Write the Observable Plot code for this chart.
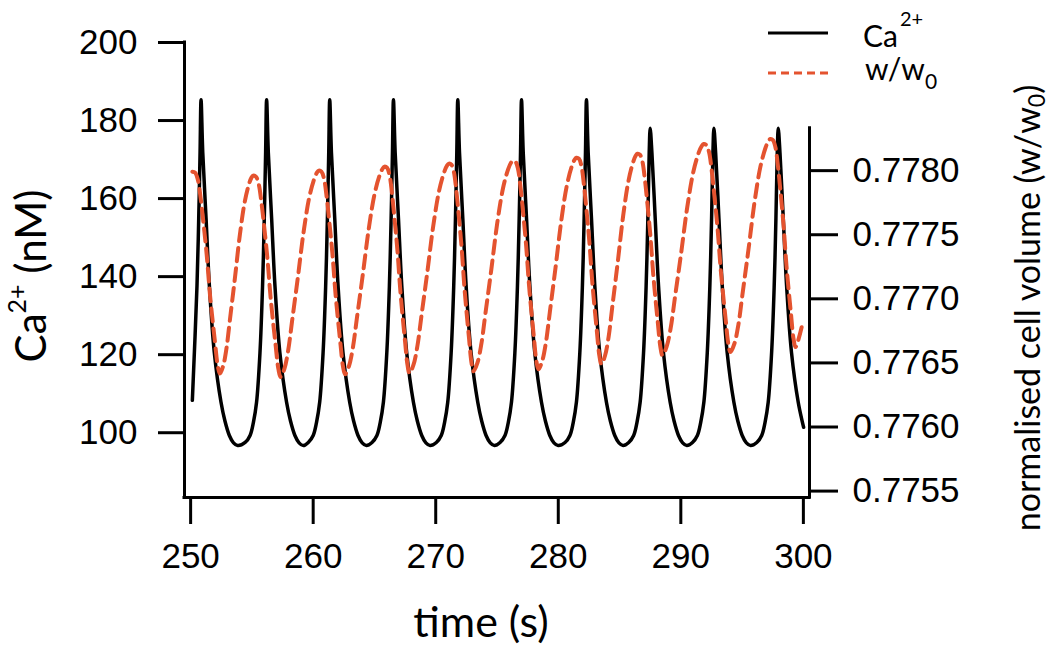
<!DOCTYPE html>
<html>
<head>
<meta charset="utf-8">
<script src="https://cdn.jsdelivr.net/npm/d3@7"></script>
<script src="https://cdn.jsdelivr.net/npm/@observablehq/plot@0.6"></script>
<style>
  html, body { margin: 0; padding: 0; background: #fff; }
  #chart { position: relative; width: 1050px; height: 646px; }
</style>
</head>
<body>
<div id="chart"></div>
<script>
// ---------- data ----------
const xTicks = [250, 260, 270, 280, 290, 300];
const caTicks = [100, 120, 140, 160, 180, 200];
const wTicks = [0.7755, 0.7760, 0.7765, 0.7770, 0.7775, 0.7780];

const xDomain = [249.5, 300.5];
const yDomain = [83.4, 200];          // Ca2+ (nM), left axis
const wDomain = [0.77545, 0.77833];   // w/w0, right axis
const rightAxisTopCa = 178;           // where the right axis ends, in Ca units

// Ca2+ trace: peaks, and the shape of one spike
const caPeakTimes  = [250.85, 256.2, 261.35, 266.55, 271.8, 277.0, 282.3, 287.5, 292.7, 297.95];
const caPeakValues = [185.3, 185.3, 185.3, 185.3, 185.3, 185.3, 185.3, 178, 178, 178];
const caFallDt     = [0.14, 0.41, 0.68, 1.08, 1.63, 1.95, 2.31, 2.65, 2.99];      // s after a peak
const caFallValues = [171.8, 154.9, 137.7, 120.6, 107.8, 103.0, 99.3, 97.4, 96.7];
const caRiseDt     = [1.75, 1.35, 1.08, 0.82, 0.54, 0.33, 0.19, 0.08];            // s before a peak
const caRiseValues = [97.5, 99.3, 102.6, 107.8, 120.6, 137.7, 154.9, 171.8];
const caStart = [250.14, 108.3];
const caEnd   = [300.02, 101.4];

// w/w0 trace: peaks and troughs of each cycle, and the shape of each branch
const wPeakTimes    = [250.14, 255.10, 260.46, 265.82, 271.08, 276.30, 281.48, 286.46, 291.87, 297.31];
const wPeakValues   = [0.777992, 0.777961, 0.778000, 0.778031, 0.778055, 0.778078, 0.778101, 0.778132, 0.778208, 0.778247];
const wTroughTimes  = [252.39, 257.34, 262.60, 267.86, 273.08, 278.38, 283.52, 288.50, 294.05, 299.36];
const wTroughValues = [0.776417, 0.776390, 0.776411, 0.776419, 0.776435, 0.776450, 0.776490, 0.776559, 0.776585, 0.776624];
const wFallU    = [0.1, 0.2, 0.3, 0.4, 0.52, 0.64, 0.82, 0.92];   // fraction of peak->trough time
const wFallFrac = [0.005, 0.04, 0.13, 0.25, 0.41, 0.61, 0.843, 0.96];
const wRiseU    = [0.1, 0.2, 0.3, 0.45, 0.6, 0.75, 0.88, 0.95];    // fraction of trough->peak time
const wRiseFrac = [0.04, 0.13, 0.27, 0.48, 0.7, 0.87, 0.96, 0.99];
const wEnd = [299.95, 0.776816];

// ---------- build the series ----------
const caData = [{t: caStart[0], v: caStart[1]}];
caPeakTimes.forEach((p, i) => {
  const prevMin = i > 0 ? caPeakTimes[i - 1] + caFallDt[caFallDt.length - 1] : caStart[0];
  caRiseDt.forEach((dt, j) => { const t = p - dt; if (t > prevMin + 0.2 && t > caStart[0]) caData.push({t, v: caRiseValues[j]}); });
  caData.push({t: p, v: caPeakValues[i]});
  caFallDt.forEach((dt, j) => { const t = p + dt; if (t < caEnd[0]) caData.push({t, v: caFallValues[j]}); });
});
caData.push({t: caEnd[0], v: caEnd[1]});

const wToCa = d3.scaleLinear().domain(wDomain).range([yDomain[0], rightAxisTopCa]);

const wData = [];
wPeakTimes.forEach((p, i) => {
  const pv = wPeakValues[i], tt = wTroughTimes[i], tv = wTroughValues[i];
  wData.push({t: p, w: pv});
  wFallU.forEach((u, j) => wData.push({t: p + u * (tt - p), w: pv + wFallFrac[j] * (tv - pv)}));
  wData.push({t: tt, w: tv});
  if (i + 1 < wPeakTimes.length) {
    const np = wPeakTimes[i + 1], npv = wPeakValues[i + 1];
    wRiseU.forEach((u, j) => wData.push({t: tt + u * (np - tt), w: tv + wRiseFrac[j] * (npv - tv)}));
  }
});
wData.push({t: wEnd[0], w: wEnd[1]});
wData.forEach(d => d.v = wToCa(d.w));

// ---------- plot ----------
const red = "#e4532f";
const tickFont = "'Liberation Sans', Arial, Helvetica, sans-serif";
const titleFont = "Lato, 'Open Sans', sans-serif";

const svg = Plot.plot({
  width: 1050,
  height: 646,
  marginTop: 42,
  marginBottom: 149,
  marginLeft: 184,
  marginRight: 241,
  x: {domain: xDomain},
  y: {domain: yDomain},
  style: {fontFamily: tickFont, background: "white", color: "black", overflow: "visible"},
  marks: [
    Plot.line(caData, {x: "t", y: "v", stroke: "black", strokeWidth: 3.5, curve: "catmull-rom"}),
    Plot.line(wData, {x: "t", y: "v", stroke: red, strokeWidth: 4, strokeDasharray: "13,7", curve: "catmull-rom"}),
    Plot.ruleX([xDomain[0]], {y1: yDomain[0], y2: yDomain[1], strokeWidth: 3, strokeLinecap: "square"}),
    Plot.ruleX([xDomain[1]], {y1: yDomain[0], y2: rightAxisTopCa, strokeWidth: 3, strokeLinecap: "square"}),
    Plot.ruleY([yDomain[0]], {x1: xDomain[0], x2: xDomain[1], strokeWidth: 3, strokeLinecap: "square"}),
    Plot.axisY(caTicks, {anchor: "left", tickSize: 26, tickPadding: 21, fontSize: 35, strokeWidth: 3, label: null}),
    Plot.axisY(wTicks.map(w => wToCa(w)), {
      anchor: "right", tickSize: 28, tickPadding: 15, fontSize: 35, strokeWidth: 3, label: null,
      tickFormat: d => wToCa.invert(d).toFixed(4)
    }),
    Plot.axisX(xTicks, {tickSize: 27, tickPadding: 19, fontSize: 35, strokeWidth: 3, label: null})
  ]
});

document.getElementById("chart").appendChild(svg);

// ---------- titles and legend ----------
const s = d3.select(svg);

const leftTitle = s.append("text")
  .attr("transform", "translate(46,276) rotate(-90)")
  .attr("text-anchor", "middle")
  .attr("font-family", titleFont).attr("font-size", 42).attr("fill", "black");
leftTitle.append("tspan").text("Ca");
leftTitle.append("tspan").attr("font-size", 25).attr("dy", -20).text("2+");
leftTitle.append("tspan").attr("dy", 20).text(" (nM)");

s.append("text")
  .attr("x", 481).attr("y", 637)
  .attr("text-anchor", "middle")
  .attr("font-family", titleFont).attr("font-size", 43).attr("fill", "black")
  .text("time (s)");

const rightTitle = s.append("text")
  .attr("transform", "translate(1040,308) rotate(-90)")
  .attr("text-anchor", "middle")
  .attr("font-family", titleFont).attr("font-size", 34).attr("fill", "black");
rightTitle.append("tspan").text("normalised cell volume (w/w");
rightTitle.append("tspan").attr("font-size", 23).attr("dy", 5).text("0");
rightTitle.append("tspan").attr("dy", -5).text(")");

// legend
s.append("line").attr("x1", 768).attr("x2", 828).attr("y1", 33).attr("y2", 33)
  .attr("stroke", "black").attr("stroke-width", 3);
const lg1 = s.append("text").attr("x", 863).attr("y", 47).attr("text-anchor", "start")
  .attr("font-family", titleFont).attr("font-size", 30).attr("fill", "black");
lg1.append("tspan").text("Ca");
lg1.append("tspan").attr("font-size", 20).attr("dx", 2).attr("dy", -21).text("2+");

s.append("line").attr("x1", 768).attr("x2", 828).attr("y1", 73).attr("y2", 73)
  .attr("stroke", red).attr("stroke-width", 3).attr("stroke-dasharray", "8,5");
const lg2 = s.append("text").attr("x", 865).attr("y", 80).attr("text-anchor", "start")
  .attr("font-family", titleFont).attr("font-size", 30).attr("fill", "black");
lg2.append("tspan").text("w/w");
lg2.append("tspan").attr("font-size", 21).attr("dy", 9).text("0");
</script>
</body>
</html>
